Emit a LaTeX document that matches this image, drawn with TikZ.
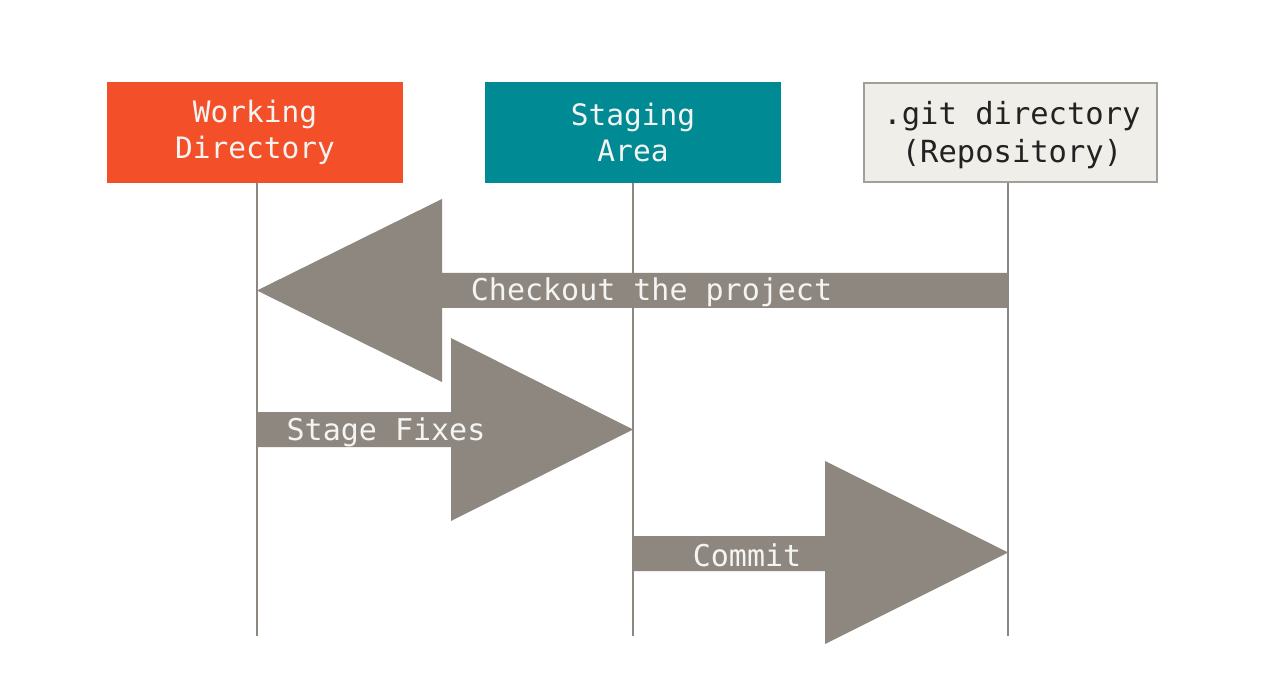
\documentclass[tikz,border=0pt]{standalone}
\usepackage{fontspec}
\newfontfamily\diagfont{DejaVu Sans Mono}
\definecolor{wdorange}{HTML}{F34F29}
\definecolor{stteal}{HTML}{008A93}
\definecolor{gitbg}{HTML}{EFEEE9}
\definecolor{gitborder}{HTML}{A29F9A}
\definecolor{arrgray}{HTML}{8D877F}
\definecolor{lighttext}{HTML}{F4F4F2}
\definecolor{darktext}{HTML}{222222}
\begin{document}
\begin{tikzpicture}[x=1pt,y=-1pt,
  areabox/.style={minimum width=296pt,minimum height=101pt,inner sep=0pt,align=center,
    font=\diagfont\fontsize{29.5pt}{36pt}\selectfont},
  lifeline/.style={draw=arrgray,line width=2.4pt},
  bigarrow/.style={fill=arrgray},
  arrlabel/.style={text=lighttext,inner sep=0pt,font=\diagfont\fontsize{30pt}{36pt}\selectfont}]
\useasboundingbox (0,0) rectangle (1269,676);
\fill[white] (0,0) rectangle (1269,676);
% boxes
\node[areabox,fill=wdorange,text=lighttext] (wd) at (255,132.5) {Working\\Directory};
\node[areabox,fill=stteal,text=lighttext] (sa) at (633,132.5) {Staging\\Area};
\node[areabox,fill=gitbg,draw=gitborder,line width=2.5pt,minimum width=293pt,minimum height=99pt] (git) at (1010.5,132.5) {};
\node[align=center,inner sep=0pt,text=darktext,font=\diagfont\fontsize{30.5pt}{38pt}\selectfont] (gittext) at (1012,135.5) {.git directory\\(Repository)};
% lifeline ends
\coordinate (wdend) at (257,636);
\coordinate (saend) at (633,636);
\coordinate (gitend) at (1008,636);
\draw[lifeline] (wd.south -| wdend) -- (wdend);
\draw[lifeline] (sa.south -| saend) -- (saend);
\draw[lifeline] (git.south -| gitend) -- (gitend);
% Checkout arrow
\fill[bigarrow] (1008,273) -- (442,273) -- (442,199) -- (257,290.5) -- (442,382) -- (442,308) -- (1008,308) -- cycle;
\node[arrlabel] (checkout) at (651.5,292.5) {Checkout the project};
% Stage Fixes arrow
\fill[bigarrow] (257,412) -- (451,412) -- (451,338) -- (633,429.5) -- (451,521) -- (451,447) -- (257,447) -- cycle;
\node[arrlabel] (stage) at (386,432.5) {Stage Fixes};
% Commit arrow
\fill[bigarrow] (633,536) -- (825,536) -- (825,461) -- (1008,552.5) -- (825,644) -- (825,571) -- (633,571) -- cycle;
\node[arrlabel] (commit) at (747,555.5) {Commit};
\end{tikzpicture}
\end{document}
